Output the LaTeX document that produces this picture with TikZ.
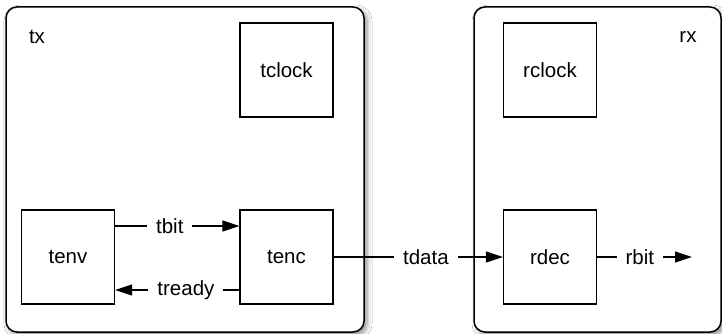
\documentclass[tikz,border=0pt]{standalone}
\usepackage{fontspec}
\setmainfont{Liberation Sans}
\usetikzlibrary{arrows.meta,shadows.blur}
\begin{document}
\begin{tikzpicture}[x=1pt,y=-1pt,
  font=\fontsize{20.5}{24}\selectfont,
  blockbox/.style={draw,line width=1.3pt,minimum width=93pt,minimum height=94pt,inner sep=0pt,fill=white},
  groupbox/.style={draw,line width=1.5pt,rounded corners=11pt,fill=white,
     blur shadow={shadow xshift=3pt,shadow yshift=-3pt,shadow blur radius=5pt,shadow opacity=45}},
  conn/.style={line width=1.2pt,-{Triangle[length=17pt,width=11pt]}},
  lbl/.style={fill=white,inner xsep=9pt,inner ysep=2pt}
]
\useasboundingbox (0,0) rectangle (722,334);
\fill[white] (0,0) rectangle (722,334);
\node[groupbox,minimum width=358pt,minimum height=325pt,inner sep=0pt] (tx) at (185,169.5) {};
\node[groupbox,minimum width=247pt,minimum height=325pt,inner sep=0pt] (rx) at (597.5,169.5) {};
\node (txl) at (37,37) {tx};
\node (rxl) at (688,37) {rx};
\node[blockbox] (tclock) at (286.5,70) {tclock};
\node[blockbox] (tenv) at (68,257) {tenv};
\node[blockbox] (tenc) at (286.5,257) {tenc};
\node[blockbox] (rclock) at (550,70) {rclock};
\node[blockbox] (rdec) at (550,257) {rdec};
\coordinate (rout) at (692,257);
\draw[conn] ([yshift=31pt]tenv.east) -- node[lbl,pos=0.44]{tbit} ([yshift=31pt]tenc.west);
\draw[conn] ([yshift=-33pt]tenc.west) -- node[lbl,pos=0.43]{tready} ([yshift=-33pt]tenv.east);
\draw[conn] (tenc.east) -- node[lbl,pos=0.545]{tdata} (rdec.west);
\draw[conn] (rdec.east) -- node[lbl,pos=0.45]{rbit} (rout);
\end{tikzpicture}
\end{document}
